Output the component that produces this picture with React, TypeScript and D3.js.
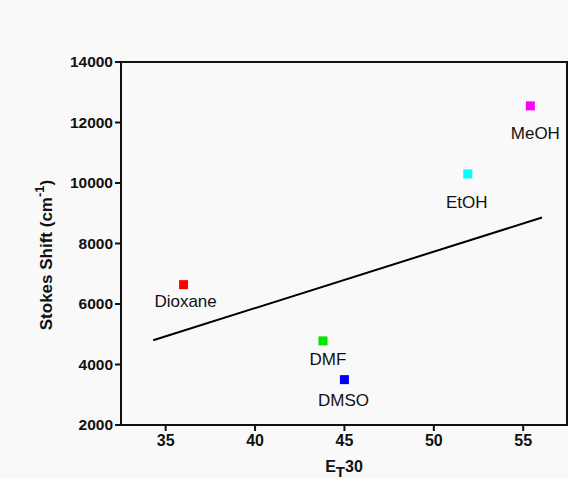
import React from "react";
import * as d3 from "d3";

const solvents = ["Dioxane", "DMF", "DMSO", "EtOH", "MeOH"];
const et30 = [36.0, 43.8, 45.0, 51.9, 55.4];
const stokesShift = [6640, 4780, 3500, 10300, 12550];
const colors = ["#ff0000", "#00e600", "#0000ff", "#00ffff", "#ff00ff"];
const fitX = [34.3, 56.05];
const fitY = [4800, 8860];
const xTicks = [35, 40, 45, 50, 55];
const yTicks = [2000, 4000, 6000, 8000, 10000, 12000, 14000];

// label offsets in pixels relative to marker centre
const labelDx = [2, 5, -1, -1, 5];
const labelDy = [22, 24, 26, 34, 33];

const W = 568;
const H = 479;
const m = { left: 121, right: 567, top: 62, bottom: 425 };

export default function App() {
  const x = d3.scaleLinear().domain([32.5, 57.45]).range([m.left, m.right]);
  const y = d3.scaleLinear().domain([2000, 14000]).range([m.bottom, m.top]);
  const line = d3
    .line<number>()
    .x((d, i) => x(fitX[i]))
    .y((d, i) => y(fitY[i]));
  const font = "Arial, 'Liberation Sans', sans-serif";
  return (
    <svg
      width={W}
      height={H}
      style={{ position: "absolute", left: 0, top: 0, background: "#f8f9f8" }}
      fontFamily={font}
    >
      <rect x={0} y={0} width={W} height={H} fill="#f8f9f8" />
      {/* fit line */}
      <path d={line(fitX) || ""} fill="none" stroke="#000" strokeWidth={2} />
      {/* points */}
      {solvents.map((s, i) => (
        <g key={s}>
          <rect
            x={x(et30[i]) - 4.5}
            y={y(stokesShift[i]) - 4.5}
            width={9}
            height={9}
            fill={colors[i]}
          />
          <text
            x={x(et30[i]) + labelDx[i]}
            y={y(stokesShift[i]) + labelDy[i]}
            textAnchor="middle"
            fontSize={17}
            fill="#111"
          >
            {s}
          </text>
        </g>
      ))}
      {/* frame */}
      <rect
        x={m.left}
        y={m.top}
        width={m.right - m.left}
        height={m.bottom - m.top}
        fill="none"
        stroke="#111"
        strokeWidth={2}
      />
      {/* x ticks */}
      {xTicks.map((t) => (
        <g key={"x" + t}>
          <line x1={x(t)} x2={x(t)} y1={m.bottom} y2={m.bottom + 6} stroke="#111" strokeWidth={2} />
          <text x={x(t)} y={m.bottom + 21} textAnchor="middle" fontSize={16} fontWeight="bold" fill="#111">
            {t}
          </text>
        </g>
      ))}
      {/* y ticks */}
      {yTicks.map((t) => (
        <g key={"y" + t}>
          <line x1={m.left - 6} x2={m.left} y1={y(t)} y2={y(t)} stroke="#111" strokeWidth={2} />
          <text x={m.left - 8} y={y(t) + 5} textAnchor="end" fontSize={15.5} fontWeight="bold" fill="#111">
            {t}
          </text>
        </g>
      ))}
      {/* x title */}
      <text x={344} y={472} textAnchor="middle" fontSize={16} fontWeight="bold" fill="#111">
        E<tspan dy={5} fontSize={15}>T</tspan>
        <tspan dy={-5}>30</tspan>
      </text>
      {/* y title */}
      <text
        transform={`translate(52,255) rotate(-90)`}
        textAnchor="middle"
        fontSize={17}
        fontWeight="bold"
        fill="#111"
      >
        Stokes Shift (cm<tspan dy={-8} fontSize={13}>-1</tspan>
        <tspan dy={8}>)</tspan>
      </text>
    </svg>
  );
}
